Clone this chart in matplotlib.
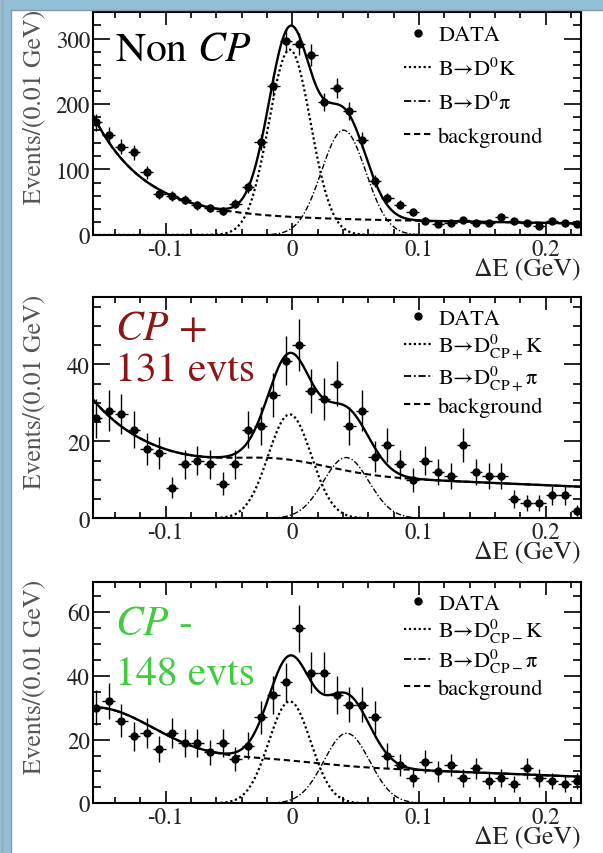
import numpy as np
import matplotlib.pyplot as plt
from matplotlib.lines import Line2D
from matplotlib.patches import Rectangle
from matplotlib.ticker import MultipleLocator

plt.rcParams['font.family'] = ['STIXGeneral', 'DejaVu Serif']
plt.rcParams['mathtext.fontset'] = 'stix'

# Delta E bins of 0.01 GeV
bin_width = 0.01
bin_centres = np.round(np.arange(-0.155, 0.2251, bin_width), 3)

# events per bin
counts_noncp = [172, 153, 135, 126, 96, 63, 60, 54, 45, 41, 37, 48, 73, 142, 227,
                296, 292, 275, 203, 224, 189, 145, 82, 57, 46, 35, 22, 17, 18, 23,
                19, 18, 27, 21, 19, 13, 21, 18, 17]
counts_cpp = [26, 28, 27, 23, 18, 17, 8, 14, 15, 14, 9, 14, 23, 24, 32,
              41, 45, 33, 31, 35, 24, 28, 16, 19, 14, 10, 15, 12, 11, 19,
              12, 11, 11, 5, 4, 4, 6, 6, 2]
counts_cpm = [30, 32, 26, 21, 22, 17, 22, 19, 19, 16, 19, 14, 18, 27, 34,
              38, 55, 41, 41, 34, 31, 31, 27, 15, 12, 8, 13, 10, 12, 8,
              11, 7, 8, 6, 11, 8, 7, 6, 7]

# fit components: (height, mean, sigma) of the D K and D pi peaks
peak_k = {'noncp': (283, -0.002, 0.0165), 'cpp': (27, -0.002, 0.017), 'cpm': (32, -0.002, 0.0165)}
peak_pi = {'noncp': (160, 0.0405, 0.0175), 'cpp': (15.8, 0.0425, 0.018), 'cpm': (22, 0.043, 0.018)}
# background: left tail (height, width, power), line (c0, c1), bump (height, mean, sigma)
bkg_tail = {'noncp': (145, 0.04, 1), 'cpp': (16.4, 0.0455, 1), 'cpm': (15.7, 0.066, 2)}
bkg_line = {'noncp': (24.5, -30), 'cpp': (11.4, -14), 'cpm': (12.0, -16)}
bkg_bump = {'noncp': (0, 0, 0.04), 'cpp': (3.3, -0.01, 0.04), 'cpm': (1.5, -0.02, 0.04)}

y_limits = {'noncp': 340, 'cpp': 57.5, 'cpm': 69.5}
y_major = {'noncp': 100, 'cpp': 20, 'cpm': 20}
y_minor = {'noncp': 20, 'cpp': 5, 'cpm': 5}
legend_top = {'noncp': 0.944, 'cpp': 0.95, 'cpm': 0.95}
legend_gap = {'noncp': 0.55, 'cpp': 0.12, 'cpm': 0.12}

x_limits = (-0.157, 0.228)


def gauss(x, height, mean, sigma):
    return height * np.exp(-0.5 * ((x - mean) / sigma) ** 2)


def background(x, key):
    a, w, p = bkg_tail[key]
    c0, c1 = bkg_line[key]
    return a * np.exp(-((x - bin_centres[0]) / w) ** p) + c0 + c1 * x + gauss(x, *bkg_bump[key])


def draw_panel(ax, key, counts, labels):
    """
    Draws one Delta E panel: data with errors, fit components and legend
    """
    x = np.linspace(x_limits[0], x_limits[1], 600)
    sig_k = gauss(x, *peak_k[key])
    sig_pi = gauss(x, *peak_pi[key])
    bkg = background(x, key)

    ax.plot(x, sig_k, color='k', lw=1.6, ls=(0, (1, 1.2)))
    ax.plot(x, sig_pi, color='k', lw=1.0, ls=(0, (4, 1.5, 1, 1.5)))
    ax.plot(x, bkg, color='k', lw=1.5, ls=(0, (3, 1.8)))
    ax.plot(x, bkg + sig_k + sig_pi, color='k', lw=1.7)

    counts = np.array(counts, dtype=float)
    ax.errorbar(bin_centres, counts, yerr=np.sqrt(counts), xerr=bin_width / 2,
                fmt='o', color='k', ms=5, elinewidth=1.0, capsize=0)

    ax.set_xlim(*x_limits)
    ax.set_ylim(0, y_limits[key])
    ax.xaxis.set_major_locator(MultipleLocator(0.1))
    ax.xaxis.set_minor_locator(MultipleLocator(0.02))
    ax.yaxis.set_major_locator(MultipleLocator(y_major[key]))
    ax.yaxis.set_minor_locator(MultipleLocator(y_minor[key]))
    ax.xaxis.set_major_formatter(lambda v, pos: '0' if abs(v) < 1e-9 else '{:g}'.format(v))
    ax.tick_params(which='both', direction='in', top=True, right=True, width=1.2,
                   labelsize=16.5, colors='k', labelcolor='#222222', pad=2.5)
    ax.tick_params(axis='x', which='major', length=9)
    ax.tick_params(axis='x', which='minor', length=4.5)
    ax.tick_params(axis='y', which='major', length=12)
    ax.tick_params(axis='y', which='minor', length=6)
    for s in ax.spines.values():
        s.set_linewidth(1.5)
    ax.set_facecolor('none')

    ax.set_ylabel('Events/(0.01 GeV)', loc='top', fontsize=18.5, color='#555555')
    ax.yaxis.set_label_coords(-0.097, 1.015)
    ax.set_xlabel('ΔE (GeV)', loc='right', fontsize=18.5, color='#222222')
    ax.xaxis.set_label_coords(1.0, -0.148)
    ax.xaxis.label.set_verticalalignment('center')

    handles = [Line2D([], [], marker='o', ls='none', color='k', ms=5),
               Line2D([], [], color='k', lw=1.6, ls=(0, (1, 1.2))),
               Line2D([], [], color='k', lw=1.3, ls=(0, (4, 1.5, 1, 1.5))),
               Line2D([], [], color='k', lw=1.5, ls=(0, (3, 1.8)))]
    ax.legend(handles, labels, loc='upper left', bbox_to_anchor=(0.637, legend_top[key]),
              frameon=False, fontsize=16, handlelength=1.3, handletextpad=0.25,
              labelspacing=legend_gap[key], borderpad=0, borderaxespad=0)


fig = plt.figure(figsize=(6.03, 8.54), dpi=100)
fig.add_artist(Rectangle((0, 1 - 11 / 854), 1, 11 / 854, transform=fig.transFigure,
                         facecolor='#93bfd6', edgecolor='none'))
fig.add_artist(Rectangle((0, 0), 11 / 603, 1, transform=fig.transFigure,
                         facecolor='#93bfd6', edgecolor='none'))
fig.add_artist(Line2D([1.5 / 603, 1.5 / 603], [0, 1], transform=fig.transFigure,
                      color='#9aa4b4', lw=1))
fig.add_artist(Line2D([11 / 603, 11 / 603], [0, 1 - 11 / 854], transform=fig.transFigure,
                      color='#8c98a8', lw=1))
fig.add_artist(Line2D([11 / 603, 1], [1 - 11 / 854, 1 - 11 / 854], transform=fig.transFigure,
                      color='#8c98a8', lw=1))

ax1 = fig.add_axes([0.155, 0.7237, 0.8085, 0.2607])
ax2 = fig.add_axes([0.155, 0.3919, 0.8085, 0.2591])
ax3 = fig.add_axes([0.155, 0.0582, 0.8085, 0.2591])

draw_panel(ax1, 'noncp', counts_noncp,
           ['DATA', 'B→D$^{0}$K', 'B→D$^{0}$π', 'background'])
draw_panel(ax2, 'cpp', counts_cpp,
           ['DATA', r'B→D$^{0}_{\mathrm{CP+}}$K', r'B→D$^{0}_{\mathrm{CP+}}$π', 'background'])
draw_panel(ax3, 'cpm', counts_cpm,
           ['DATA', r'B→D$^{0}_{\mathrm{CP-}}$K', r'B→D$^{0}_{\mathrm{CP-}}$π', 'background'])

ax1.text(0.044, 0.83, r'Non $\mathit{CP}$', transform=ax1.transAxes, fontsize=30,
         va='center', ha='left', color='k')
ax2.text(0.044, 0.855, r'$\mathit{CP}$ +', transform=ax2.transAxes, fontsize=30,
         va='center', ha='left', color='#8c1515')
ax2.text(0.044, 0.667, '131 evts', transform=ax2.transAxes, fontsize=30,
         va='center', ha='left', color='#8c1515')
ax3.text(0.044, 0.81, r'$\mathit{CP}$ -', transform=ax3.transAxes, fontsize=30,
         va='center', ha='left', color='#3fcc3f')
ax3.text(0.044, 0.585, '148 evts', transform=ax3.transAxes, fontsize=30,
         va='center', ha='left', color='#3fcc3f')

fig.savefig('out.png', dpi=100)
